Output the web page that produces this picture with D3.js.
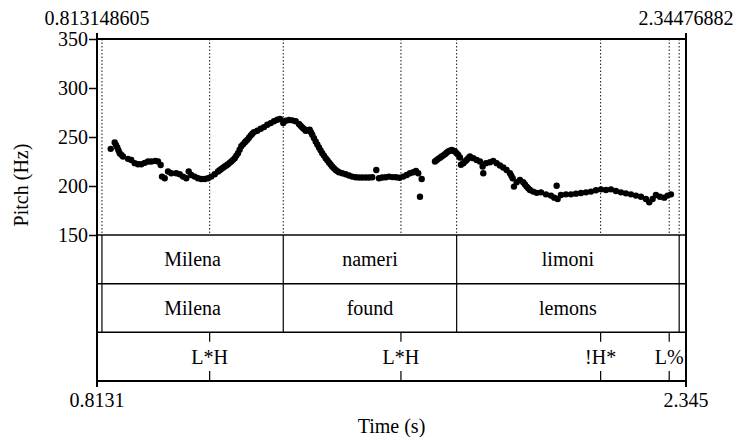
<!DOCTYPE html>
<html>
<head>
<meta charset="utf-8">
<script src="https://cdn.jsdelivr.net/npm/d3@7"></script>
<style>
  html, body { margin: 0; padding: 0; background: #fff; }
  svg text { font-family: "Liberation Serif", "Times New Roman", serif; font-size: 20px; fill: #000; }
</style>
</head>
<body>
<div id="chart"></div>
<script>
// ---------------------------------------------------------------------------//
// Data
// ---------------------------------------------------------------------------//
const timeDomain = [0.813148605, 2.34476882];
const topTimeLabels = ["0.813148605", "2.34476882"];
const bottomTimeLabels = ["0.8131", "2.345"];
const pitchTicks = [150, 200, 250, 300, 350];

const pitchTimes = [
  0.8488, 0.8592, 0.8625, 0.8659, 0.8690, 0.8722, 0.8765, 0.8808, 0.8938, 0.9023,
  0.9112, 0.9198, 0.9283, 0.9372, 0.9458, 0.9543, 0.9647, 0.9718, 0.9788, 0.9822,
  0.9892, 0.9978, 1.0063, 1.0193, 1.0282, 1.0368, 1.0453, 1.0516, 1.0583, 1.0672,
  1.0758, 1.0843, 1.0932, 1.1018, 1.1103, 1.1192, 1.1278, 1.1320, 1.1363, 1.1408,
  1.1452, 1.1495, 1.1538, 1.1580, 1.1623, 1.1668, 1.1712, 1.1755, 1.1798, 1.1840,
  1.1883, 1.1928, 1.1972, 1.2005, 1.2039, 1.2083, 1.2128, 1.2170, 1.2214, 1.2299,
  1.2388, 1.2474, 1.2559, 1.2648, 1.2734, 1.2819, 1.2890, 1.2975, 1.3038, 1.3124,
  1.3209, 1.3298, 1.3384, 1.3426, 1.3469, 1.3513, 1.3558, 1.3610, 1.3662, 1.3695,
  1.3729, 1.3773, 1.3818, 1.3861, 1.3904, 1.3946, 1.3989, 1.4033, 1.4078, 1.4121,
  1.4164, 1.4206, 1.4249, 1.4293, 1.4338, 1.4381, 1.4424, 1.4509, 1.4598, 1.4684,
  1.4769, 1.4858, 1.4944, 1.5029, 1.5118, 1.5204, 1.5289, 1.5394, 1.5464, 1.5549,
  1.5638, 1.5724, 1.5815, 1.5906, 1.5997, 1.6095, 1.6184, 1.6270, 1.6355, 1.6425,
  1.6485, 1.6574, 1.6530, 1.6920, 1.6962, 1.7005, 1.7050, 1.7094, 1.7137, 1.7180,
  1.7222, 1.7265, 1.7310, 1.7354, 1.7397, 1.7440, 1.7483, 1.7525, 1.7570, 1.7596,
  1.7656, 1.7700, 1.7744, 1.7787, 1.7830, 1.7915, 1.8004, 1.8090, 1.8160, 1.8176,
  1.8246, 1.8350, 1.8435, 1.8524, 1.8610, 1.8695, 1.8784, 1.8870, 1.8905, 1.8940,
  1.8974, 1.9044, 1.9130, 1.9215, 1.9260, 1.9304, 1.9347, 1.9390, 1.9475, 1.9564,
  1.9676, 1.9806, 1.9936, 2.0022, 2.0084, 2.0110, 2.0196, 2.0326, 2.0456, 2.0586,
  2.0716, 2.0846, 2.0976, 2.1106, 2.1236, 2.1366, 2.1496, 2.1626, 2.1756, 2.1886,
  2.2016, 2.2146, 2.2276, 2.2406, 2.2492, 2.2580, 2.2666, 2.2770, 2.2881, 2.2970,
  2.3056,
];

const pitchHz = [
  237.9, 244.5, 242.0, 239.3, 236.4, 233.5, 231.8, 230.1, 227.7, 226.6,
  223.3, 222.2, 222.2, 223.6, 225.0, 225.0, 225.6, 225.0, 221.5, 209.6,
  207.9, 214.8, 213.0, 213.0, 212.0, 209.6, 207.9, 214.8, 211.3, 209.6,
  207.9, 207.2, 207.2, 207.9, 209.6, 212.0, 214.8, 216.1, 217.4, 218.6,
  219.9, 221.0, 222.2, 223.6, 225.0, 226.7, 228.4, 231.0, 233.5, 237.0,
  240.5, 242.5, 244.5, 245.8, 247.1, 249.3, 251.6, 253.3, 255.0, 256.4,
  258.4, 260.1, 262.5, 264.2, 266.0, 267.6, 268.3, 264.2, 266.6, 267.3,
  267.0, 266.0, 263.2, 261.5, 259.8, 258.1, 256.4, 256.9, 257.4, 254.8,
  252.3, 248.9, 245.5, 242.4, 239.3, 236.4, 233.5, 231.0, 228.4, 226.2,
  224.0, 222.0, 219.9, 218.2, 216.4, 215.2, 214.0, 213.0, 212.0, 210.7,
  209.6, 208.9, 208.6, 208.6, 208.6, 208.6, 208.9, 216.4, 207.9, 208.6,
  208.9, 209.6, 209.1, 208.9, 208.4, 209.6, 211.3, 213.0, 214.0, 215.4,
  213.0, 207.2, 189.1, 225.0, 226.4, 227.7, 228.9, 230.1, 231.3, 232.5,
  233.9, 235.2, 236.0, 236.9, 236.0, 235.2, 233.5, 231.8, 229.1, 221.7,
  223.3, 225.0, 226.6, 228.4, 230.1, 228.4, 226.6, 225.0, 219.9, 213.0,
  223.3, 224.3, 225.6, 223.3, 220.9, 218.9, 216.4, 213.0, 210.5, 207.9,
  199.4, 203.8, 206.1, 203.8, 201.6, 199.4, 197.6, 195.9, 194.3, 193.0,
  193.5, 191.5, 190.2, 188.1, 200.2, 186.7, 190.8, 191.5, 191.5, 192.2,
  192.8, 193.5, 194.3, 195.6, 196.6, 195.9, 196.6, 194.9, 193.5, 192.5,
  191.5, 190.2, 189.1, 186.7, 183.3, 186.7, 190.8, 189.1, 188.1, 190.2,
  191.5,
];

// TextGrid: interval boundaries shared by the two word tiers
const wordBoundaries = [0.8260, 1.2975, 1.7484, 2.3270];
const wordsOriginal = ["Milena", "nameri", "limoni"];
const wordsGloss = ["Milena", "found", "lemons"];
// Point tier
const toneTimes = [1.1061, 1.6035, 2.1228, 2.3011];
const toneLabels = ["L*H", "L*H", "!H*", "L%"];

// ---------------------------------------------------------------------------//
// Layout
// ---------------------------------------------------------------------------//
const width = 736;
const height = 437;
const left = 97;
const right = 686;
const pitchTop = 39;
const pitchBottom = 235;
const tierHeight = 48.67;
const tierCount = 3;
const tiersBottom = pitchBottom + tierHeight * tierCount;

const x = d3.scaleLinear().domain(timeDomain).range([left, right]);
const y = d3.scaleLinear().domain([150, 350]).range([pitchBottom, pitchTop]);

const svg = d3
  .select("#chart")
  .append("svg")
  .attr("width", width)
  .attr("height", height);

// ---------------------------------------------------------------------------//
// Dotted boundary lines across the pitch area
// ---------------------------------------------------------------------------//
const allMarks = wordBoundaries.concat(toneTimes);
svg
  .append("g")
  .selectAll("line")
  .data(allMarks)
  .join("line")
  .attr("x1", (d) => x(d))
  .attr("x2", (d) => x(d))
  .attr("y1", pitchTop)
  .attr("y2", pitchBottom)
  .attr("stroke", "#111")
  .attr("stroke-width", 1)
  .attr("stroke-dasharray", "1.5,2");

// ---------------------------------------------------------------------------//
// Pitch points
// ---------------------------------------------------------------------------//
const pitchPoints = pitchTimes.map((t, i) => ({ t, hz: pitchHz[i] }));
svg
  .append("g")
  .selectAll("circle")
  .data(pitchPoints)
  .join("circle")
  .attr("cx", (d) => x(d.t))
  .attr("cy", (d) => y(d.hz))
  .attr("r", 3.2)
  .attr("fill", "#000");

// ---------------------------------------------------------------------------//
// Tiers
// ---------------------------------------------------------------------------//
const tiers = svg.append("g");
[1, 2].forEach((k) => {
  tiers
    .append("line")
    .attr("x1", left)
    .attr("x2", right)
    .attr("y1", pitchBottom + tierHeight * k)
    .attr("y2", pitchBottom + tierHeight * k)
    .attr("stroke", "#000")
    .attr("stroke-width", 1.5);
});
tiers
  .append("line")
  .attr("x1", left)
  .attr("x2", right)
  .attr("y1", pitchBottom)
  .attr("y2", pitchBottom)
  .attr("stroke", "#444")
  .attr("stroke-width", 1.8);

function drawIntervalTier(labels, index) {
  const top = pitchBottom + tierHeight * index;
  tiers
    .append("g")
    .selectAll("line")
    .data(wordBoundaries)
    .join("line")
    .attr("x1", (d) => x(d))
    .attr("x2", (d) => x(d))
    .attr("y1", top)
    .attr("y2", top + tierHeight)
    .attr("stroke", "#000")
    .attr("stroke-width", 1.2);
  tiers
    .append("g")
    .selectAll("text")
    .data(labels)
    .join("text")
    .attr("x", (d, i) => (x(wordBoundaries[i]) + x(wordBoundaries[i + 1])) / 2)
    .attr("y", top + tierHeight / 2 + 6.5)
    .attr("text-anchor", "middle")
    .text((d) => d);
}
drawIntervalTier(wordsOriginal, 0);
drawIntervalTier(wordsGloss, 1);

// Point tier
const pointTop = pitchBottom + tierHeight * 2;
const pointTicks = tiers.append("g");
toneTimes.forEach((t) => {
  pointTicks
    .append("line")
    .attr("x1", x(t)).attr("x2", x(t))
    .attr("y1", pointTop).attr("y2", pointTop + 9.5)
    .attr("stroke", "#000").attr("stroke-width", 1.2);
  pointTicks
    .append("line")
    .attr("x1", x(t)).attr("x2", x(t))
    .attr("y1", tiersBottom - 10).attr("y2", tiersBottom)
    .attr("stroke", "#000").attr("stroke-width", 1.2);
});
tiers
  .append("g")
  .selectAll("text")
  .data(toneLabels)
  .join("text")
  .attr("x", (d, i) => x(toneTimes[i]))
  .attr("y", pointTop + tierHeight / 2 + 7)
  .attr("text-anchor", "middle")
  .text((d) => d);

// ---------------------------------------------------------------------------//
// Frame and axes
// ---------------------------------------------------------------------------//
const frame = svg.append("g").attr("stroke", "#000").attr("stroke-width", 2);
frame.append("line").attr("x1", left).attr("x2", right).attr("y1", pitchTop).attr("y2", pitchTop);
frame.append("line").attr("x1", left).attr("x2", right).attr("y1", tiersBottom).attr("y2", tiersBottom);
frame.append("line").attr("x1", left).attr("x2", left).attr("y1", pitchTop - 6).attr("y2", tiersBottom + 6);
frame.append("line").attr("x1", right).attr("x2", right).attr("y1", pitchTop - 6).attr("y2", tiersBottom + 6);

const yAxis = d3.axisLeft(y).tickValues(pitchTicks).tickSize(8).tickPadding(1);
const yAxisG = svg.append("g").attr("transform", `translate(${left},0)`).call(yAxis);
yAxisG.select(".domain").remove();
yAxisG.selectAll(".tick line").attr("stroke", "#000").attr("stroke-width", 1.5);
yAxisG
  .selectAll(".tick text")
  .attr("font-family", null)
  .attr("font-size", null)
  .attr("dy", "0.34em");

svg
  .append("g")
  .selectAll("text")
  .data(topTimeLabels)
  .join("text")
  .attr("x", (d, i) => x(timeDomain[i]))
  .attr("y", 25)
  .attr("text-anchor", "middle")
  .text((d) => d);

svg
  .append("g")
  .selectAll("text")
  .data(bottomTimeLabels)
  .join("text")
  .attr("x", (d, i) => x(timeDomain[i]))
  .attr("y", 407)
  .attr("text-anchor", "middle")
  .text((d) => d);

svg
  .append("text")
  .attr("x", (left + right) / 2)
  .attr("y", 433)
  .attr("text-anchor", "middle")
  .text("Time (s)");

svg
  .append("text")
  .attr("transform", "translate(28,185) rotate(-90)")
  .attr("text-anchor", "middle")
  .text("Pitch (Hz)");
</script>
</body>
</html>
